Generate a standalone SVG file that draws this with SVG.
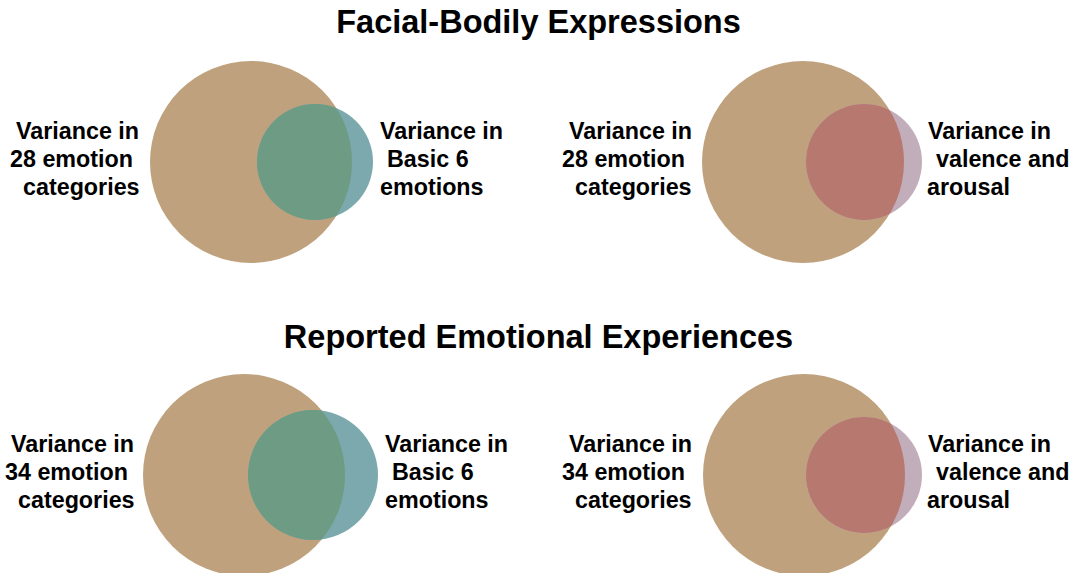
<svg xmlns="http://www.w3.org/2000/svg" width="1075" height="573" viewBox="0 0 1075 573">
<style>
.t{font-family:"Liberation Sans",Arial,sans-serif;font-weight:bold;fill:#000}
.title{font-size:32.5px;text-anchor:middle}
.lab{font-size:23.3px}
.big{fill:#bfa27d}
.teal{fill:#7ca9ad}
.green{fill:#6e9b83}
.lav{fill:#c2aebb}
.red{fill:#b77870}
</style>
<defs>
<clipPath id="c1"><circle cx="251" cy="162" r="101"/></clipPath>
<clipPath id="c2"><circle cx="803" cy="162" r="101"/></clipPath>
<clipPath id="c3"><circle cx="244" cy="475" r="101"/></clipPath>
<clipPath id="c4"><circle cx="804" cy="475" r="101"/></clipPath>
</defs>
<rect width="1075" height="573" fill="#fff"/>
<text class="t title" x="538.5" y="33">Facial-Bodily Expressions</text>
<text class="t title" x="538.5" y="348">Reported Emotional Experiences</text>

<g id="venn1">
  <g id="venn1-big"><circle class="big" cx="251" cy="162" r="101"/></g>
  <g id="venn1-small"><circle class="teal" cx="315" cy="162" r="58"/><circle class="green" cx="315" cy="162" r="58" clip-path="url(#c1)"/></g>
  <g id="venn1-left-label"><text class="t lab"><tspan x="16" y="139">Variance in</tspan><tspan x="10" y="167">28 emotion</tspan><tspan x="23" y="195">categories</tspan></text></g>
  <g id="venn1-right-label"><text class="t lab"><tspan x="380" y="139">Variance in</tspan><tspan x="387" y="167">Basic 6</tspan><tspan x="380" y="195">emotions</tspan></text></g>
</g>

<g id="venn2">
  <g id="venn2-big"><circle class="big" cx="803" cy="162" r="101"/></g>
  <g id="venn2-small"><circle class="lav" cx="864" cy="162" r="58"/><circle class="red" cx="864" cy="162" r="58" clip-path="url(#c2)"/></g>
  <g id="venn2-left-label"><text class="t lab"><tspan x="569" y="139">Variance in</tspan><tspan x="562" y="167">28 emotion</tspan><tspan x="575" y="195">categories</tspan></text></g>
  <g id="venn2-right-label"><text class="t lab"><tspan x="928" y="139">Variance in</tspan><tspan x="936" y="167">valence and</tspan><tspan x="927" y="195">arousal</tspan></text></g>
</g>

<g id="venn3">
  <g id="venn3-big"><circle class="big" cx="244" cy="475" r="101"/></g>
  <g id="venn3-small"><circle class="teal" cx="313" cy="475" r="65"/><circle class="green" cx="313" cy="475" r="65" clip-path="url(#c3)"/></g>
  <g id="venn3-left-label"><text class="t lab"><tspan x="11" y="452">Variance in</tspan><tspan x="5" y="480">34 emotion</tspan><tspan x="18" y="508">categories</tspan></text></g>
  <g id="venn3-right-label"><text class="t lab"><tspan x="385" y="452">Variance in</tspan><tspan x="392" y="480">Basic 6</tspan><tspan x="385" y="508">emotions</tspan></text></g>
</g>

<g id="venn4">
  <g id="venn4-big"><circle class="big" cx="804" cy="475" r="101"/></g>
  <g id="venn4-small"><circle class="lav" cx="864" cy="475" r="58"/><circle class="red" cx="864" cy="475" r="58" clip-path="url(#c4)"/></g>
  <g id="venn4-left-label"><text class="t lab"><tspan x="569" y="452">Variance in</tspan><tspan x="562" y="480">34 emotion</tspan><tspan x="575" y="508">categories</tspan></text></g>
  <g id="venn4-right-label"><text class="t lab"><tspan x="928" y="452">Variance in</tspan><tspan x="936" y="480">valence and</tspan><tspan x="927" y="508">arousal</tspan></text></g>
</g>
</svg>
